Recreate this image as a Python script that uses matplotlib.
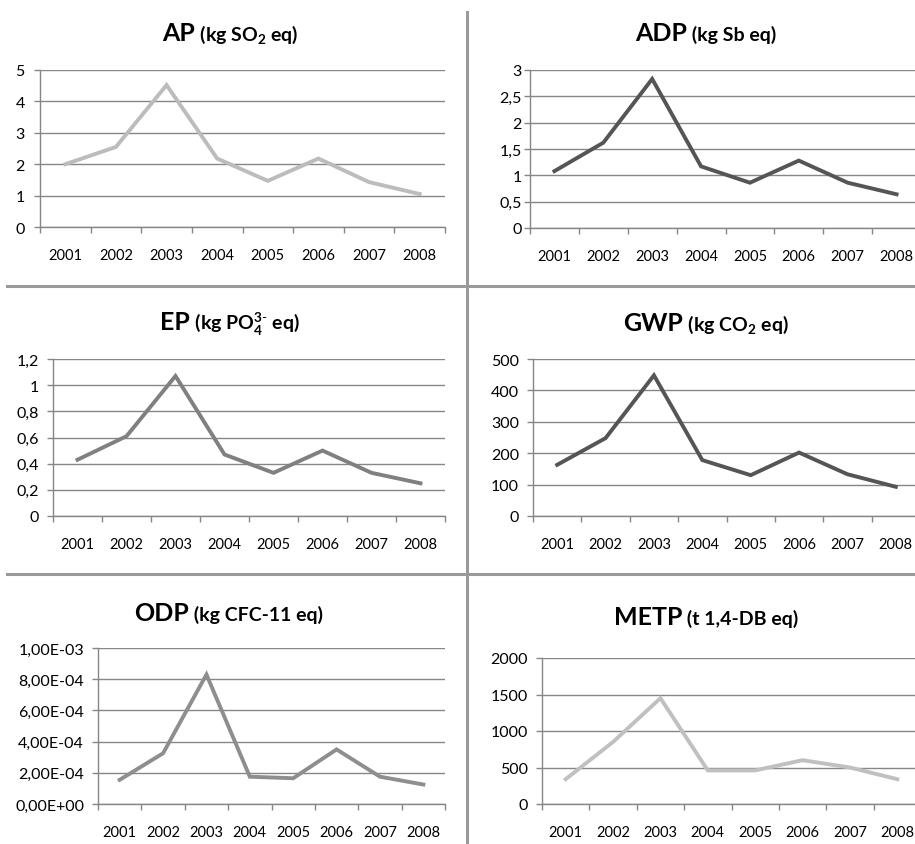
import numpy as np
import matplotlib.pyplot as plt
from matplotlib.lines import Line2D

plt.rcParams['font.family'] = ['Lato', 'DejaVu Sans']
plt.rcParams['mathtext.fontset'] = 'custom'
plt.rcParams['mathtext.rm'] = 'Lato'
plt.rcParams['mathtext.bf'] = 'Lato:bold'

years = ['2001', '2002', '2003', '2004', '2005', '2006', '2007', '2008']

ap = [2.0, 2.55, 4.52, 2.18, 1.47, 2.18, 1.43, 1.05]
adp = [1.08, 1.62, 2.83, 1.17, 0.86, 1.28, 0.86, 0.64]
ep = [0.43, 0.61, 1.07, 0.47, 0.33, 0.50, 0.33, 0.25]
gwp = [163, 248, 448, 178, 130, 202, 133, 93]
odp = [1.55e-4, 3.25e-4, 8.3e-4, 1.75e-4, 1.65e-4, 3.5e-4, 1.75e-4, 1.25e-4]
metp = [340, 850, 1450, 460, 460, 600, 500, 340]

ap_ticks = [0, 1, 2, 3, 4, 5]
ap_labels = ['0', '1', '2', '3', '4', '5']
adp_ticks = [0, 0.5, 1, 1.5, 2, 2.5, 3]
adp_labels = ['0', '0,5', '1', '1,5', '2', '2,5', '3']
ep_ticks = [0, 0.2, 0.4, 0.6, 0.8, 1.0, 1.2]
ep_labels = ['0', '0,2', '0,4', '0,6', '0,8', '1', '1,2']
gwp_ticks = [0, 100, 200, 300, 400, 500]
gwp_labels = ['0', '100', '200', '300', '400', '500']
odp_ticks = [0, 2e-4, 4e-4, 6e-4, 8e-4, 1e-3]
odp_labels = ['0,00E+00', '2,00E-04', '4,00E-04', '6,00E-04', '8,00E-04', '1,00E-03']
metp_ticks = [0, 500, 1000, 1500, 2000]
metp_labels = ['0', '500', '1000', '1500', '2000']

W, H = 915, 845
fig = plt.figure(figsize=(W / 100, H / 100), dpi=100)

ep_unit = r' (kg PO$_\mathbf{4}^{\mathbf{3}' + '\u2010' + r'}$ eq)'

# panel: (name, unit, data, ticks, labels, color, axes px [x0, x1, ytop, ybot], title center px, ylabel pad)
panels = [
    ('AP', r' (kg SO$_\mathbf{2}$ eq)', ap, ap_ticks, ap_labels, '#bcbcbc', [40, 445, 71, 228], (230, 33), 7),
    ('ADP', ' (kg Sb eq)', adp, adp_ticks, adp_labels, '#555555', [530, 921, 71, 229], (706, 33), 2),
    ('EP', ep_unit, ep, ep_ticks, ep_labels, '#808080', [53, 445, 360, 517], (230, 322), 6),
    ('GWP', r' (kg CO$_\mathbf{2}$ eq)', gwp, gwp_ticks, gwp_labels, '#555555', [533, 920, 360, 517], (706, 323), 6),
    ('ODP', ' (kg CFC-11 eq)', odp, odp_ticks, odp_labels, '#8e8e8e', [98, 445, 649, 805], (229, 613), 6),
    ('METP', ' (t 1,4-DB eq)', metp, metp_ticks, metp_labels, '#c0c0c0', [542, 921, 659, 805], (706, 617), 6),
]

grid_c = '#868686'
titles = []
for name, unit, data, yt, yl, col, box, tc, pad in panels:
    x0, x1, yt0, yb0 = box
    ax = fig.add_axes([x0 / W, 1 - yb0 / H, (x1 - x0) / W, (yb0 - yt0) / H])
    x = np.arange(len(data)) + 0.5
    ax.plot(x, data, color=col, lw=2.8, solid_joinstyle='miter', clip_on=False)
    ax.set_xlim(0, len(data))
    ax.set_ylim(yt[0], yt[-1])
    ax.set_yticks(yt)
    ax.set_yticklabels(yl)
    ax.set_xticks(np.arange(len(data) + 1))
    ax.set_xticklabels([])
    ax.set_xticks(x, minor=True)
    ax.set_xticklabels(years, minor=True)
    ax.tick_params(axis='x', which='major', length=4, color=grid_c, width=1)
    ax.tick_params(axis='x', which='minor', length=0, pad=15, labelsize=10.5)
    ax.tick_params(axis='y', length=4, color=grid_c, width=1, pad=pad, labelsize=11.5)
    ax.grid(axis='y', color=grid_c, lw=1)
    ax.set_axisbelow(True)
    for s in ['top', 'right']:
        ax.spines[s].set_visible(False)
    for s in ['left', 'bottom']:
        ax.spines[s].set_color(grid_c)
        ax.spines[s].set_linewidth(1)
    t1 = fig.text(0, 0, name, fontsize=18, fontweight='bold', va='baseline', ha='left')
    t2 = fig.text(0, 0, unit, fontsize=14, fontweight='bold', va='baseline', ha='left')
    titles.append((t1, t2, tc))

fig.canvas.draw()
r = fig.canvas.get_renderer()
for t1, t2, tc in titles:
    w1 = t1.get_window_extent(r).width
    w2 = t2.get_window_extent(r).width
    left = tc[0] - (w1 + w2) / 2
    base = tc[1] + 8
    t1.set_position((left / W, 1 - base / H))
    t2.set_position(((left + w1) / W, 1 - base / H))

# chart borders between panels
div_c = '#9a9a9a'
fig.add_artist(Line2D([467 / W, 467 / W], [1 - 13 / H, 0], color=div_c, lw=2.2))
for yy in [287, 575]:
    fig.add_artist(Line2D([7 / W, 1], [1 - yy / H, 1 - yy / H], color=div_c, lw=2.2))

plt.savefig('out.png', dpi=100)
